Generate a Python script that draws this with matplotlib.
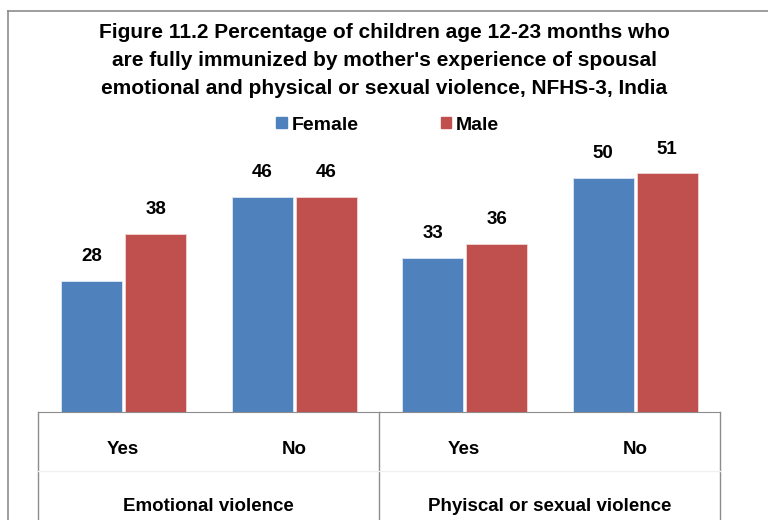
import matplotlib
matplotlib.use("Agg")
import matplotlib.pyplot as plt
from matplotlib.lines import Line2D
from matplotlib.patches import Patch

# Daten aus der Abbildung (NFHS-3, Indien)
groups = ["Emotional violence", "Phyiscal or sexual violence"]
subcats = ["Yes", "No", "Yes", "No"]
female = [28, 46, 33, 50]
male = [38, 46, 36, 51]

plt.rcParams["font.family"] = ["Liberation Sans", "DejaVu Sans"]

fig = plt.figure(figsize=(7.68, 5.2), dpi=100)
ax = fig.add_axes([0.0495, 0.2077, 0.888, 0.540])

blue = "#4F81BD"
red = "#C0504D"
w = 0.358
x = list(range(len(subcats)))

b1 = ax.bar([i - 0.185 for i in x], female, w, color=blue, edgecolor="#dfe8f3", linewidth=0.6)
b2 = ax.bar([i + 0.19 for i in x], male, w, color=red, edgecolor="#f0d8d7", linewidth=0.6)

for bars in (b1, b2):
    for r in bars:
        ax.annotate(str(int(r.get_height())), (r.get_x() + r.get_width() / 2, r.get_height()),
                    xytext=(0, 17.5), textcoords="offset points", ha="center", va="center",
                    fontsize=13.5, fontweight="bold")

ax.set_xlim(-0.5, 3.5)
ax.set_ylim(0, 60)
for s in ["top", "left", "right"]:
    ax.spines[s].set_visible(False)
ax.spines["bottom"].set_color("#8c8c8c")
ax.set_xticks([])
ax.set_yticks([])

# Tabelle unter der Achse
tr = ax.get_xaxis_transform()
for xv in [-0.5, 1.5, 3.5]:
    ax.plot([xv, xv], [0, -0.4], color="#8c8c8c", lw=1, transform=tr, clip_on=False)
ax.plot([-0.5, 3.5], [-0.21, -0.21], color="#f0f0f0", lw=1, transform=tr, clip_on=False)
for i, lab in enumerate(subcats):
    ax.text(i, -0.135, lab, transform=tr, ha="center", va="center", fontsize=13.5, fontweight="bold")
ax.text(0.5, -0.335, groups[0], transform=tr, ha="center", va="center", fontsize=13.5, fontweight="bold")
ax.text(2.5, -0.335, groups[1], transform=tr, ha="center", va="center", fontsize=13.5, fontweight="bold")

# Titel
fig.text(0.5, 1 - 61 / 520,
         "Figure 11.2 Percentage of children age 12-23 months who\n"
         "are fully immunized by mother's experience of spousal\n"
         "emotional and physical or sexual violence, NFHS-3, India",
         ha="center", va="center", fontsize=15, fontweight="bold", linespacing=1.6)

# Legende
handles = [Patch(color=blue, label="Female"), Patch(color=red, label="Male")]
fig.legend(handles=handles, loc="center", bbox_to_anchor=(0.505, 1 - 125 / 520), ncol=2,
           frameon=False, handlelength=0.55, handleheight=0.55, handletextpad=0.25,
           columnspacing=4.2, prop={"size": 14, "weight": "bold"})

# Rahmen
fig.add_artist(Line2D([8 / 768, 8 / 768], [0, 1 - 11 / 520], color="#8c8c8c", lw=1.2))
fig.add_artist(Line2D([8 / 768, 1], [1 - 11 / 520, 1 - 11 / 520], color="#8c8c8c", lw=1.2))

fig.savefig("out.png", dpi=100)
